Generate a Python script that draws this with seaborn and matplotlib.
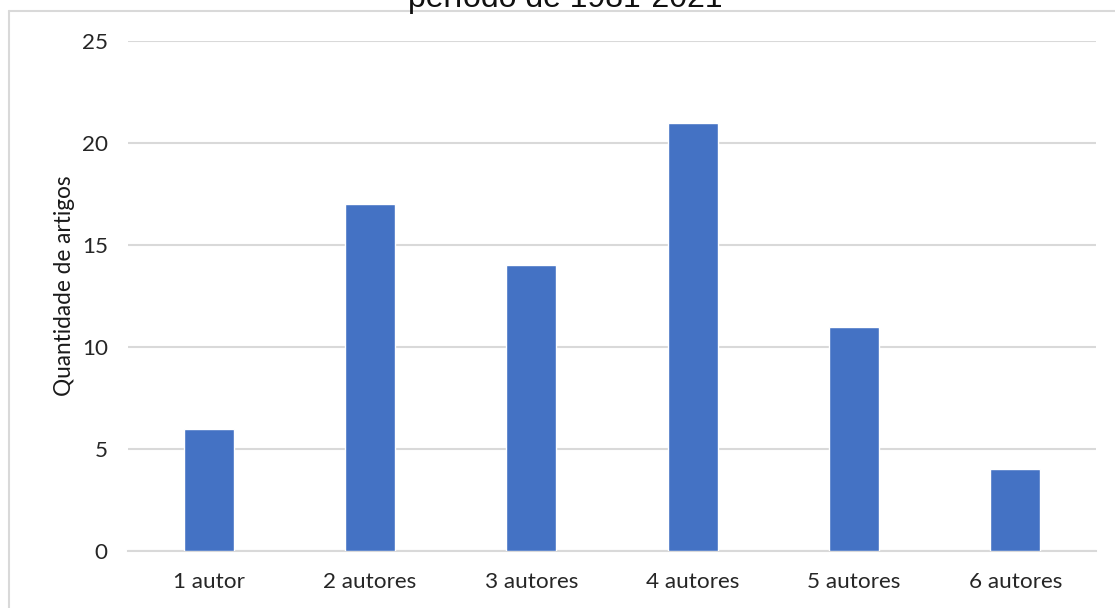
import matplotlib
matplotlib.use("Agg")
import matplotlib.pyplot as plt
from matplotlib.lines import Line2D
import seaborn as sns
import pandas as pd

categories = ["1 autor", "2 autores", "3 autores", "4 autores", "5 autores", "6 autores"]
values = [6, 17, 14, 21, 11, 4]
y_ticks = [0, 5, 10, 15, 20, 25]
title_visible = "período de 1981-2021"
y_label = "Quantidade de artigos"

sns.set_theme(style="white")
plt.rcParams["font.family"] = ["Lato", "DejaVu Sans"]

df = pd.DataFrame({"cat": categories, "val": values})

W, H = 1115, 608
fig = plt.figure(figsize=(W / 100, H / 100), dpi=100)
ax = fig.add_axes([128 / W, 1 - 551 / H, (1096 - 128) / W, (551 - 41) / H])

sns.barplot(data=df, x="cat", y="val", color="#4472C4", width=0.31,
            saturation=1, ax=ax, zorder=3)

ax.set_xlim(-0.5, len(categories) - 0.5)
ax.set_ylim(0, 25)
ax.set_yticks(y_ticks)
ax.set_yticklabels([str(t) for t in y_ticks])
ax.yaxis.grid(True, color="#d9d9d9", linewidth=1.5, zorder=0)
ax.xaxis.grid(False)
for s in ["left", "right", "top"]:
    ax.spines[s].set_visible(False)
ax.spines["bottom"].set_color("#d9d9d9")
ax.spines["bottom"].set_linewidth(1.5)
ax.tick_params(axis="both", length=0, labelsize=16.2, colors="#262626")
ax.tick_params(axis="y", pad=14.5)
ax.tick_params(axis="x", pad=15)
ax.set_xlabel("")
ax.set_ylabel(y_label, fontsize=16.3, color="#1a1a1a")
ax.yaxis.set_label_coords((75 - 128) / (1096 - 128), 0.52)

fig.text(565 / W, 1 - 7 / H, title_visible, ha="center", va="baseline",
         fontsize=23, color="#111111", family=["Liberation Sans", "DejaVu Sans"])

bx, by = 8.5 / W, 1 - 10.5 / H
fig.add_artist(Line2D([bx, bx], [0, by], transform=fig.transFigure,
                      color="#d9d9d9", linewidth=1.5))
fig.add_artist(Line2D([bx, 1], [by, by], transform=fig.transFigure,
                      color="#d9d9d9", linewidth=1.5))

fig.savefig("out.png", dpi=100, facecolor="white")
